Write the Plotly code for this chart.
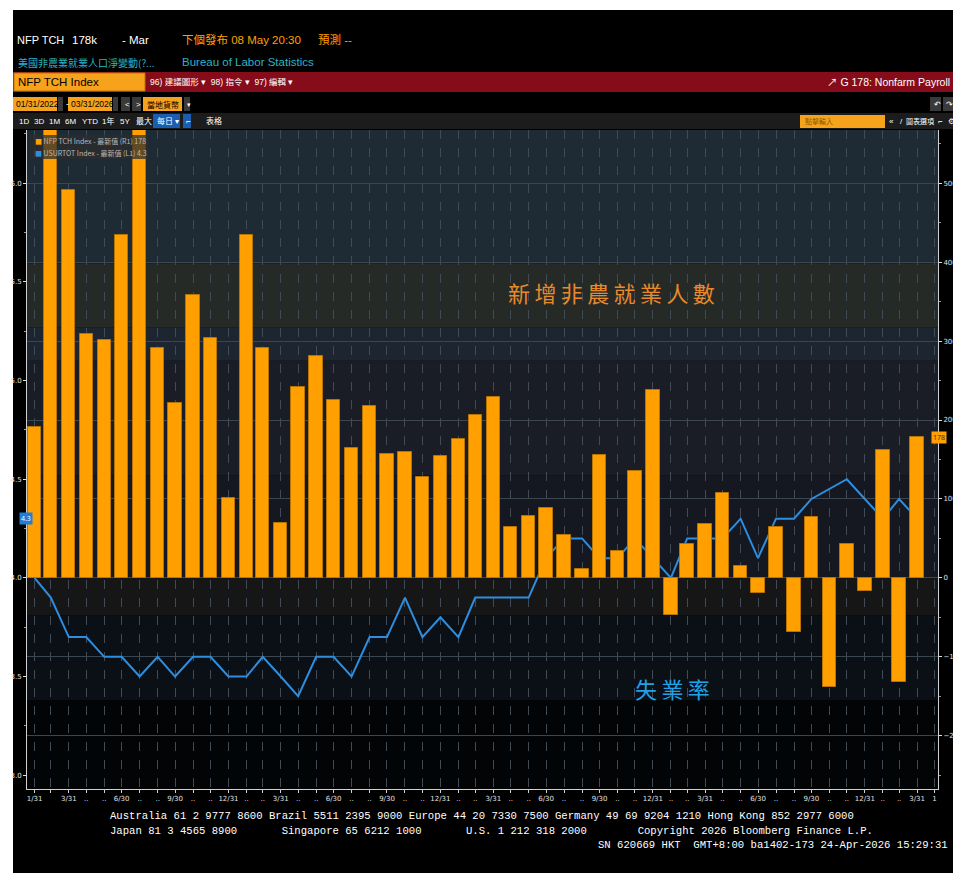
import pandas as pd
import plotly.graph_objects as go

# monthly data, Jan 2022 .. Mar 2026
months = pd.date_range("2022-01-31", "2026-03-31", freq="ME")
nfp_k = [191, 750, 491, 309, 302, 435, 585, 291, 221, 359, 304, 101,
         435, 291, 69, 242, 281, 226, 164, 218, 157, 160, 128, 154,
         176, 207, 229, 65, 79, 88, 54, 11, 156, 34, 135, 238,
         -47, 43, 68, 108, 15, -19, 65, -69, 77, -138, 43, -16,
         162, -132, 178]
unemp_rate = [4.0, 3.9, 3.7, 3.7, 3.6, 3.6, 3.5, 3.6, 3.5, 3.6, 3.6, 3.5,
              3.5, 3.6, 3.5, 3.4, 3.6, 3.6, 3.5, 3.7, 3.7, 3.9, 3.7, 3.8,
              3.7, 3.9, 3.9, 3.9, 3.9, 4.1, 4.2, 4.2, 4.1, 4.1, 4.2, 4.1,
              4.0, 4.2, 4.2, 4.2, 4.3, 4.1, 4.3, 4.3, 4.4, None, 4.5, 4.4,
              4.3, 4.4, 4.3]
left_ticks = [3.0, 3.5, 4.0, 4.5, 5.0, 5.5, 6.0]
right_ticks = [-200, -100, 0, 100, 200, 300, 400, 500]
quarter_labels = {3: "3/31", 6: "6/30", 9: "9/30", 12: "12/31"}
footer_lines = [
    "Australia 61 2 9777 8600 Brazil 5511 2395 9000 Europe 44 20 7330 7500 Germany 49 69 9204 1210 Hong Kong 852 2977 6000",
    "Japan 81 3 4565 8900       Singapore 65 6212 1000       U.S. 1 212 318 2000        Copyright 2026 Bloomberg Finance L.P.",
]
footer_sn = "SN 620669 HKT  GMT+8:00 ba1402-173 24-Apr-2026 15:29:31"

ORANGE = "#ffa000"
BLUE = "#2d8ee0"
FIG_W, FIG_H = 953, 875
L, R, T, B = 27, 938, 130, 789
MONO = "Liberation Mono, DejaVu Sans Mono, monospace"
SANS = "Liberation Sans, Noto Sans CJK TC, sans-serif"
CJK = "Noto Sans CJK TC, sans-serif"


def px(x):
    return (x - L) / (R - L)


def py(y):
    return 1 - (y - T) / (B - T)


# tick labels along the time axis
tick_vals = list(months) + [pd.Timestamp("2026-04-30")]
tick_text = []
for i, m in enumerate(months):
    if i == 0:
        tick_text.append("1/31")
    elif i == 1:
        tick_text.append("")
    else:
        tick_text.append(quarter_labels.get(m.month, ".."))
tick_text.append("1")

fig = go.Figure()
fig.add_trace(go.Bar(
    x=months, y=nfp_k, yaxis="y2", name="NFP TCH Index",
    marker=dict(color=ORANGE, line=dict(color="#b87400", width=1)),
    width=23 * 86400000,
))
fig.add_trace(go.Scatter(
    x=months, y=unemp_rate, mode="lines", name="USURTOT Index",
    line=dict(color=BLUE, width=2), connectgaps=True,
))

shapes = []
# black terminal panel
shapes.append(dict(type="rect", xref="paper", yref="paper", layer="below",
                   x0=px(13), x1=px(953), y0=py(10), y1=py(873),
                   fillcolor="black", line_width=0))
# horizontal background bands of the chart (left-axis units)
bands = [(6.27, 5.595, "#1f2b34"), (5.595, 5.27, "#262a26"), (5.27, 5.10, "#1d2630"),
         (5.10, 4.52, "#1a1c26"), (4.52, 4.0, "#151820"), (4.0, 3.81, "#161616"),
         (3.81, 3.38, "#0b1017"), (3.38, 2.93, "#030405")]
for y0, y1, c in bands:
    shapes.append(dict(type="rect", xref="paper", yref="y", layer="below",
                       x0=0, x1=1, y0=y0, y1=y1, fillcolor=c, line_width=0))
# red command bar
shapes.append(dict(type="rect", xref="paper", yref="paper", x0=px(13), x1=px(953),
                   y0=py(72), y1=py(92), fillcolor="#870c19", line_width=0))
shapes.append(dict(type="rect", xref="paper", yref="paper", x0=px(14), x1=px(145),
                   y0=py(73), y1=py(91), fillcolor="#f7a21b", line=dict(color="#c07000", width=1)))
# date boxes
for x0, x1 in [(13, 57), (68, 112), (143, 182)]:
    shapes.append(dict(type="rect", xref="paper", yref="paper", x0=px(x0), x1=px(x1),
                       y0=py(97), y1=py(111), fillcolor="#f7a21b", line_width=0))
for x0, x1 in [(58, 63), (113, 118), (121, 130), (132, 141), (184, 190), (930, 941), (943, 953)]:
    shapes.append(dict(type="rect", xref="paper", yref="paper", x0=px(x0), x1=px(x1),
                       y0=py(97), y1=py(111), fillcolor="#3a3a3a", line_width=0))
# toolbar row
shapes.append(dict(type="rect", xref="paper", yref="paper", x0=px(13), x1=px(953),
                   y0=py(113), y1=py(129), fillcolor="#1c1c1c", line_width=0))
shapes.append(dict(type="rect", xref="paper", yref="paper", x0=px(153), x1=px(180),
                   y0=py(114), y1=py(128), fillcolor="#1b5eb0", line_width=0))
shapes.append(dict(type="rect", xref="paper", yref="paper", x0=px(183), x1=px(191),
                   y0=py(114), y1=py(128), fillcolor="#1b5eb0", line_width=0))
shapes.append(dict(type="rect", xref="paper", yref="paper", x0=px(800), x1=px(885),
                   y0=py(115), y1=py(128), fillcolor="#f7a21b", line_width=0))
# legend box
shapes.append(dict(type="rect", xref="paper", yref="paper", x0=px(30), x1=px(148),
                   y0=py(135), y1=py(159), fillcolor="rgba(45,45,45,0.75)", line_width=0))

ann = []


def text(x, y, s, size=11, color="white", family=SANS, anchor="left", **kw):
    ann.append(dict(x=px(x), y=py(y), xref="paper", yref="paper", text=s, showarrow=False,
                    xanchor=anchor, yanchor="middle", font=dict(size=size, color=color, family=family), **kw))


# header
text(15, 40, "NFP TCH", 11)
text(70, 40, "178k", 11.5)
text(120, 40, "- Mar", 11.5)
text(180, 40, "下個發布 08 May 20:30", 11.5, ORANGE)
text(316, 40, "預測 --", 11.5, ORANGE)
text(16, 62, "美國非農業就業人口淨變動(?...", 10, "#2ab3c4", CJK)
text(180, 62, "Bureau of Labor Statistics", 11.5, "#2ab3c4")
text(16, 82, "NFP TCH Index", 11.5, "black")
text(148, 82, "96) 建議圖形 ▾  98) 指令 ▾  97) 編輯 ▾", 8.5)
text(952, 82, "↗ G 178: Nonfarm Payroll", 10.5, anchor="right")
text(14, 104, "01/31/2022", 8.5, "black")
text(64, 104, "-", 9)
text(69, 104, "03/31/2026", 8.5, "black")
text(123, 104, "<", 8)
text(134, 104, ">", 8)
text(145, 104, "當地貨幣", 8, "black", CJK)
text(185, 104, "▾", 7)
for xx, lab in [(17, "1D"), (32, "3D"), (47, "1M"), (63, "6M"), (80, "YTD"),
                (100, "1年"), (118, "5Y"), (134, "最大")]:
    text(xx, 121, lab, 8)
text(155, 121, "每日 ▾", 8)
text(184, 121, "⌐", 8)
text(204, 121, "表格", 8)
text(803, 121, "點擊輸入", 7, "#8a5a00", CJK)
text(887, 121, "«", 8)
text(898, 121, "/", 8)
text(904, 121, "圖表選項", 7, "white", CJK)
text(936, 121, "⌐", 8)
text(946, 121, "⚙", 8)
text(932, 104, "↶", 8)
text(944, 104, "↷", 8)
# legend
text(33, 141, f"<span style='color:{ORANGE}'>■</span> NFP TCH Index - 最新值 (R1) 178", 7, "#b9b9b9", CJK)
text(33, 153, f"<span style='color:{BLUE}'>■</span> USURTOT Index - 最新值 (L1) 4.3", 7, "#b9b9b9", CJK)
# chart captions
text(611, 292, "新\u2009增\u2009非\u2009農\u2009就\u2009業\u2009人\u2009數", 22, "#e8892c", CJK, "center")
text(672, 688, "失\u2009業\u2009率", 22, "#1ea2ea", CJK, "center")
# footer
text(108, 816, footer_lines[0], 10.6, family=MONO)
text(108, 831, footer_lines[1], 10.6, family=MONO)
text(596, 845, footer_sn, 10.6, family=MONO)

# last value tags
ann.append(dict(x=px(19), y=unemp_rate[-1], xref="paper", yref="y", text="4.3", showarrow=False,
                font=dict(size=7, color="white"), bgcolor="#1e7fd6", borderpad=1))
ann.append(dict(x=px(947), y=nfp_k[-1], xref="paper", yref="y2", text="178", showarrow=False,
                font=dict(size=7, color="#3a2000"), bgcolor=ORANGE, borderpad=1))

axis_font = dict(size=7, color="#e0e0e0", family="DejaVu Sans")
fig.update_layout(
    width=FIG_W, height=FIG_H,
    margin=dict(l=L, r=FIG_W - R, t=T, b=FIG_H - B, autoexpand=False),
    paper_bgcolor="white", plot_bgcolor="black",
    showlegend=False, bargap=0,
    shapes=shapes, annotations=ann,
    xaxis=dict(type="date", range=["2022-01-18", "2026-05-06"],
               tickvals=tick_vals, ticktext=tick_text, tickangle=0,
               tickfont=axis_font, ticks="outside", ticklen=3, tickcolor="#cfcfcf",
               showgrid=True, gridcolor="#414b55", griddash="dash", gridwidth=1,
               showline=True, linecolor="#d0d0d0", linewidth=1, zeroline=False),
    yaxis=dict(range=[2.93, 6.27], tickvals=left_ticks, ticktext=[f"{v:.1f}" for v in left_ticks],
               tickfont=axis_font, ticks="outside", ticklen=3, tickcolor="#e0e0e0",
               minor=dict(dtick=0.25, ticks="outside", ticklen=2, tickcolor="#9a9a9a", showgrid=False),
               showgrid=False, zeroline=False, showline=True, linecolor="#d0d0d0", linewidth=1),
    yaxis2=dict(range=[-267.5, 567.5], overlaying="y", side="right", tickvals=right_ticks,
                tickfont=axis_font, ticks="outside", ticklen=3, tickcolor="#e0e0e0",
                minor=dict(dtick=50, ticks="outside", ticklen=2, tickcolor="#9a9a9a", showgrid=False),
                showgrid=True, gridcolor="#3a4650", gridwidth=1, zeroline=False,
                showline=True, linecolor="#d0d0d0", linewidth=1),
)

fig.write_html("out.html", config={"displayModeBar": False},
               post_script="document.body.style.margin='0';")
